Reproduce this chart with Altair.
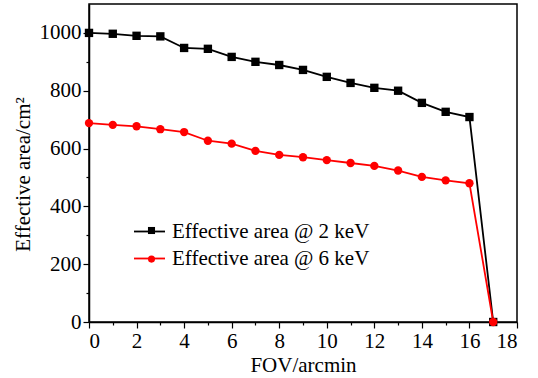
import altair as alt
import pandas as pd

fov = list(range(18))
area_2kev = [1000, 997, 990, 988, 948, 945, 917, 900, 889, 872, 848, 827, 810, 800, 758, 727, 709, 0]
area_6kev = [688, 682, 677, 667, 657, 627, 617, 592, 578, 570, 560, 550, 540, 524, 502, 490, 480, 0]
series_names = ["Effective area @ 2 keV", "Effective area @ 6 keV"]
marker_names = ["2 keV", "6 keV"]
series_colors = ["#000000", "#ff0000"]
series_shapes = ["square", "circle"]
x_major = list(range(0, 19, 2))
x_minor = list(range(1, 18, 2))
y_major = list(range(0, 1001, 200))
y_minor = list(range(100, 1000, 200))

rows = []
for i, f in enumerate(fov):
    rows.append({"fov": f, "area": area_2kev[i], "series": series_names[0], "marker": marker_names[0], "order": 0})
for i, f in enumerate(fov):
    rows.append({"fov": f, "area": area_6kev[i], "series": series_names[1], "marker": marker_names[1], "order": 1})
df = pd.DataFrame(rows)

FONT = "Liberation Serif"
FS = 21
xs = alt.Scale(domain=[0, 18], nice=False, zero=False)
ys = alt.Scale(domain=[0, 1100], nice=False)

base = alt.Chart(df)

line = base.mark_line(strokeWidth=1.8).encode(
    x=alt.X("fov:Q", scale=xs, axis=alt.Axis(values=x_major, title="FOV/arcmin", tickSize=6, orient="bottom",
                                              labelPadding=2, titlePadding=3, grid=False, format="d")),
    y=alt.Y("area:Q", scale=ys, axis=alt.Axis(values=y_major, title="Effective area/cm²", tickSize=6, orient="left",
                                               labelPadding=2, titlePadding=6, titleY=170, grid=False, format="d")),
    color=alt.Color("series:N", scale=alt.Scale(domain=series_names, range=series_colors),
                    legend=alt.Legend(title=None, orient="none", legendX=44, legendY=211,
                                      symbolType="stroke", symbolSize=961, symbolStrokeWidth=1.8,
                                      labelFont=FONT, labelFontSize=FS, labelOffset=6, labelLimit=0,
                                      rowPadding=-3.4, padding=0, labelColor="#000000")),
    detail="series:N",
    order="fov:Q",
)

leg2 = alt.Legend(title=None, orient="none", legendX=52, legendY=216,
                  symbolSize=50, symbolStrokeWidth=0,
                  labelFont=FONT, labelFontSize=FS, labelOffset=8, labelExpr="''",
                  rowPadding=6.6, padding=0)

points = base.mark_point(filled=True, size=70, opacity=1).encode(
    x=alt.X("fov:Q", scale=xs, axis=None),
    y=alt.Y("area:Q", scale=ys, axis=None),
    fill=alt.Fill("marker:N", scale=alt.Scale(domain=marker_names, range=series_colors), legend=leg2),
    shape=alt.Shape("marker:N", scale=alt.Scale(domain=marker_names, range=series_shapes), legend=leg2),
    order="order:Q",
)

minor = base.mark_point(opacity=0).encode(
    x=alt.X("fov:Q", scale=xs, axis=alt.Axis(values=x_minor, labels=False, domain=False, tickSize=3,
                                              orient="bottom", title=None, grid=False)),
    y=alt.Y("area:Q", scale=ys, axis=alt.Axis(values=y_minor, labels=False, domain=False, tickSize=3,
                                               orient="left", title=None, grid=False)),
)

chart = alt.layer(line, points, minor).resolve_axis(x="independent", y="independent").properties(
    width=428, height=318,
    background="white",
    autosize=alt.AutoSizeParams(type="none"),
    padding={"left": 89, "top": 4, "right": 21, "bottom": 56},
).configure_view(stroke="#000000", strokeWidth=1.5).configure_axis(
    domainColor="#000000", domainWidth=1.5, tickColor="#000000", tickWidth=1.2,
    labelFont=FONT, labelFontSize=FS, labelColor="#000000",
    titleFont=FONT, titleFontSize=FS, titleFontWeight="normal", titleColor="#000000",
)

chart.save("out.html", embed_options={"renderer": "svg", "actions": False})
